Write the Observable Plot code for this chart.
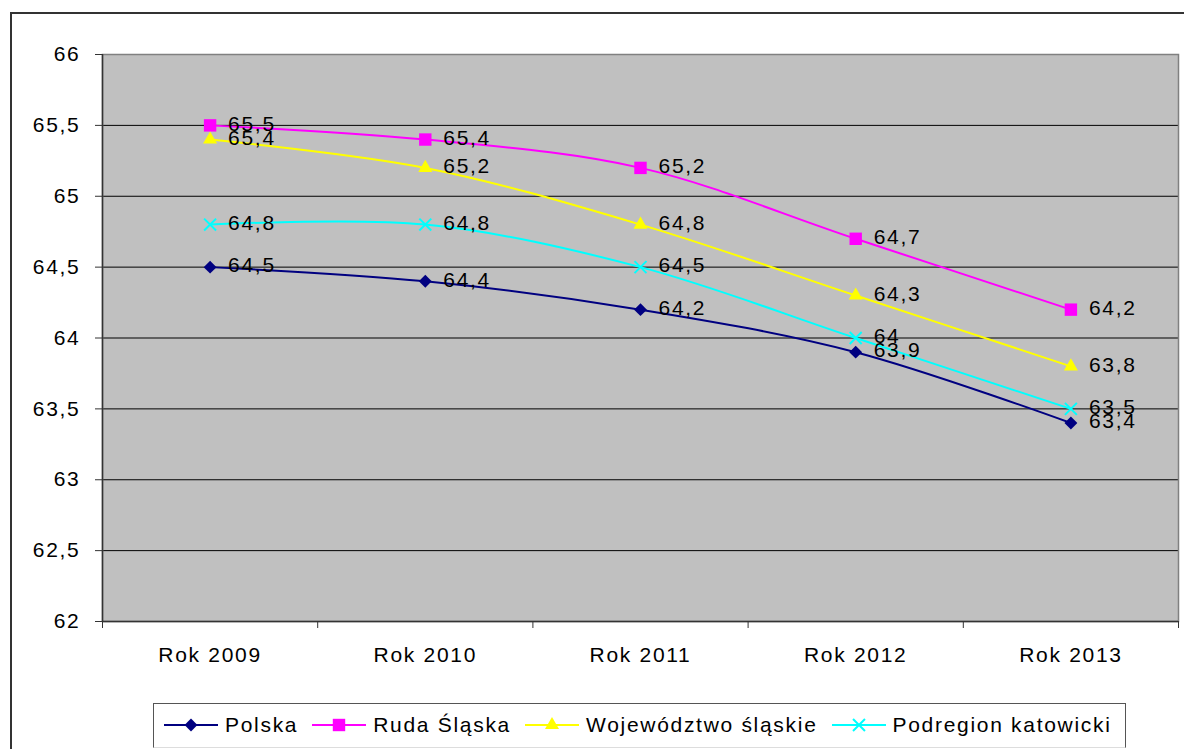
<!DOCTYPE html>
<html><head><meta charset="utf-8">
<script src="https://cdn.jsdelivr.net/npm/d3@7"></script>
<script src="https://cdn.jsdelivr.net/npm/@observablehq/plot@0.6"></script>
<style>
body{margin:0;overflow:hidden;background:#fff;font-family:"Liberation Sans",Arial,sans-serif;}
#frame{position:absolute;left:10px;top:12px;width:1220px;height:800px;border:2px solid #333;box-sizing:border-box;}
#chart{position:absolute;left:0;top:0;}
#legend{position:absolute;left:153px;top:703px;width:973px;height:45px;border:1px solid #555;border-bottom-color:#ddd;box-sizing:border-box;display:flex;align-items:flex-start;padding:8px 0 0 10px;gap:14px;font-size:21px;letter-spacing:1.7px;line-height:26px;background:#fff}
.item{display:flex;align-items:center;gap:7px;color:#000}
</style></head><body>
<div id="frame"></div><div id="chart"></div><div id="legend"></div>
<script>
const categories = ["Rok 2009", "Rok 2010", "Rok 2011", "Rok 2012", "Rok 2013"];
const seriesNames = ["Polska", "Ruda Śląska", "Województwo śląskie", "Podregion katowicki"];
const polska = [64.5, 64.4, 64.2, 63.9, 63.4];
const rudaSlaska = [65.5, 65.4, 65.2, 64.7, 64.2];
const wojewodztwo = [65.4, 65.2, 64.8, 64.3, 63.8];
const podregion = [64.8, 64.8, 64.5, 64.0, 63.5];
const yTicks = [62, 62.5, 63, 63.5, 64, 64.5, 65, 65.5, 66];

const seriesValues = [polska, rudaSlaska, wojewodztwo, podregion];
const colors = ["#000080", "#FF00FF", "#FFFF00", "#00FFFF"];
const symbols = ["diamond2", "square", "triangle", "times"];
const radii = [5.8, 7, 5.2, 5.5];
const d3Symbols = [d3.symbolDiamond2, d3.symbolSquare, d3.symbolTriangle, d3.symbolTimes];

const fmt = d => String(d).replace(".", ",");
const data = seriesNames.map((name, s) => categories.map((c, i) => ({series: s, name, cat: c, idx: i + 0.5, value: seriesValues[s][i]})));
const bounds = d3.range(categories.length + 1);
const centers = categories.map((c, i) => i + 0.5);

const marks = [
  Plot.frame({fill: "#C0C0C0", stroke: null}),
  Plot.ruleY(yTicks.slice(1, -1), {stroke: "#000", strokeWidth: 1}),
  Plot.frame({stroke: "#808080", strokeWidth: 1.5}),
  Plot.ruleX([0], {stroke: "#333", strokeWidth: 1.5}),
  Plot.ruleY([62], {stroke: "#333", strokeWidth: 1.5}),
  Plot.axisY({ticks: yTicks, tickSize: 7, tickPadding: 15, tickFormat: fmt, fontSize: 21, label: null, stroke: "#333"}),
  Plot.axisX({ticks: bounds, tickSize: 7, tickFormat: () => "", label: null, stroke: "#333"}),
  Plot.axisX({ticks: centers, tickSize: 0, tickPadding: 26, tickFormat: d => categories[Math.round(d - 0.5)], fontSize: 21, label: null})
];
data.forEach((rows, s) => {
  marks.push(Plot.line(rows, {x: "idx", y: "value", stroke: colors[s], strokeWidth: 2, curve: "catmull-rom"}));
});
data.forEach((rows, s) => {
  const isStroke = symbols[s] === "times";
  marks.push(Plot.dot(rows, {x: "idx", y: "value", symbol: () => symbols[s], r: radii[s],
    fill: isStroke ? "none" : colors[s], stroke: isStroke ? colors[s] : "none", strokeWidth: 2}));
});
data.forEach((rows) => {
  marks.push(Plot.text(rows, {x: "idx", y: "value", text: d => fmt(d.value), textAnchor: "start", dx: 18, dy: -1.5, fontSize: 21, fill: "#000"}));
});

const chart = Plot.plot({
  width: 1184,
  height: 690,
  marginLeft: 102,
  marginRight: 6,
  marginTop: 54,
  marginBottom: 69,
  style: {background: "none", fontFamily: "'Liberation Sans', Arial, sans-serif", color: "#000", letterSpacing: "1.7px"},
  x: {type: "linear", domain: [0, categories.length], axis: null},
  y: {domain: [62, 66], axis: null},
  symbol: {type: "identity"},
  marks
});
document.getElementById("chart").appendChild(chart);

const legend = document.getElementById("legend");
seriesNames.forEach((name, s) => {
  const item = document.createElement("div");
  item.className = "item";
  const svg = d3.create("svg").attr("width", 54).attr("height", 26);
  svg.append("line").attr("x1", 0).attr("x2", 54).attr("y1", 13).attr("y2", 13).attr("stroke", colors[s]).attr("stroke-width", 2);
  const isStroke = symbols[s] === "times";
  svg.append("path").attr("transform", "translate(27,13)")
    .attr("d", d3.symbol(d3Symbols[s], radii[s] * radii[s] * Math.PI)())
    .attr("fill", isStroke ? "none" : colors[s]).attr("stroke", isStroke ? colors[s] : "none").attr("stroke-width", 2);
  item.appendChild(svg.node());
  const span = document.createElement("span");
  span.textContent = name;
  item.appendChild(span);
  legend.appendChild(item);
});
</script>
</body></html>
